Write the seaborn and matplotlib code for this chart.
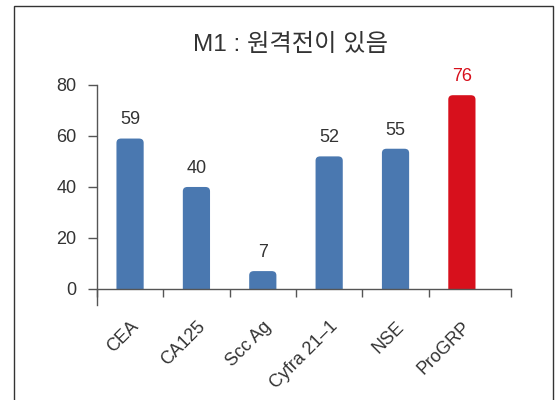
import matplotlib
matplotlib.use("Agg")
import matplotlib.pyplot as plt
from matplotlib.patches import Rectangle, FancyBboxPatch
import seaborn as sns

# data
markers = ["CEA", "CA125", "Scc Ag", "Cyfra 21\u20131", "NSE", "ProGRP"]
values = [59, 40, 7, 52, 55, 76]
bar_colors = ["#4a78b0", "#4a78b0", "#4a78b0", "#4a78b0", "#4a78b0", "#d7101c"]
label_colors = ["#333333", "#333333", "#333333", "#333333", "#333333", "#d7101c"]
yticks = [0, 20, 40, 60, 80]
title = "M1 : 원격전이 있음"

sns.set_style("white")
plt.rcParams["font.family"] = ["Liberation Sans", "Noto Sans CJK KR", "DejaVu Sans"]

fig = plt.figure(figsize=(5.6, 4.0), dpi=100)
ax = fig.add_axes([0.173, 0.2375, 0.7395, 0.55])

sns.barplot(x=markers, y=values, hue=markers, palette=bar_colors,
            legend=False, width=0.41, saturation=1, ax=ax)

ax.set_ylim(-6.3, 80)
ax.set_xlim(-0.5, 5.74)

# rounded tops: swap each bar for a rounded patch clipped at zero
clip = Rectangle((-1, 0), 10, 200, transform=ax.transData)
for p in list(ax.patches):
    x0, w, h = p.get_x(), p.get_width(), p.get_height()
    fb = FancyBboxPatch((x0, -3), w, h + 3,
                        boxstyle="round,pad=0,rounding_size=0.07",
                        mutation_aspect=24, facecolor=p.get_facecolor(),
                        edgecolor="none", zorder=p.get_zorder())
    p.set_visible(False)
    ax.add_patch(fb)
    fb.set_clip_path(clip)

ax.spines["bottom"].set_position(("data", 0))
ax.spines["top"].set_visible(False)
ax.spines["right"].set_visible(False)
for s in ("left", "bottom"):
    ax.spines[s].set_color("#555555")
    ax.spines[s].set_linewidth(1.0)
    ax.spines[s].set_zorder(5)
ax.spines["left"].set_bounds(-6.3, 80)

ax.set_yticks(yticks)
ax.tick_params(axis="y", length=6.5, width=1, color="#555555", pad=8,
               labelsize=13, labelcolor="#333333", left=True)

ax.set_xticks(range(len(markers)))
ax.set_xticklabels(markers, rotation=45, ha="right", rotation_mode="anchor")
ax.tick_params(axis="x", which="major", length=0, pad=21,
               labelsize=13, labelcolor="#333333")
ax.set_xticks([-0.5, 0.5, 1.5, 2.5, 3.5, 4.5, 5.74], minor=True)
ax.tick_params(axis="x", which="minor", length=6, width=1,
               color="#555555", bottom=True, direction="out")

for i, v in enumerate(values):
    ax.text(i, v + 4, str(v), ha="center", va="bottom",
            fontsize=13, color=label_colors[i], clip_on=False)

ax.set_xlabel("")
ax.set_ylabel("")

fig.text(0.518, 0.888, title, ha="center", va="center",
         fontsize=17.5, color="#333333",
         family=["Liberation Sans", "Noto Sans CJK KR", "DejaVu Sans"])

fig.patches.append(Rectangle((14 / 560, -0.1), 539 / 560, 1.1 - 6 / 400,
                             transform=fig.transFigure, fill=False,
                             edgecolor="#333333", linewidth=1.0))

fig.savefig("out.png", dpi=100)
